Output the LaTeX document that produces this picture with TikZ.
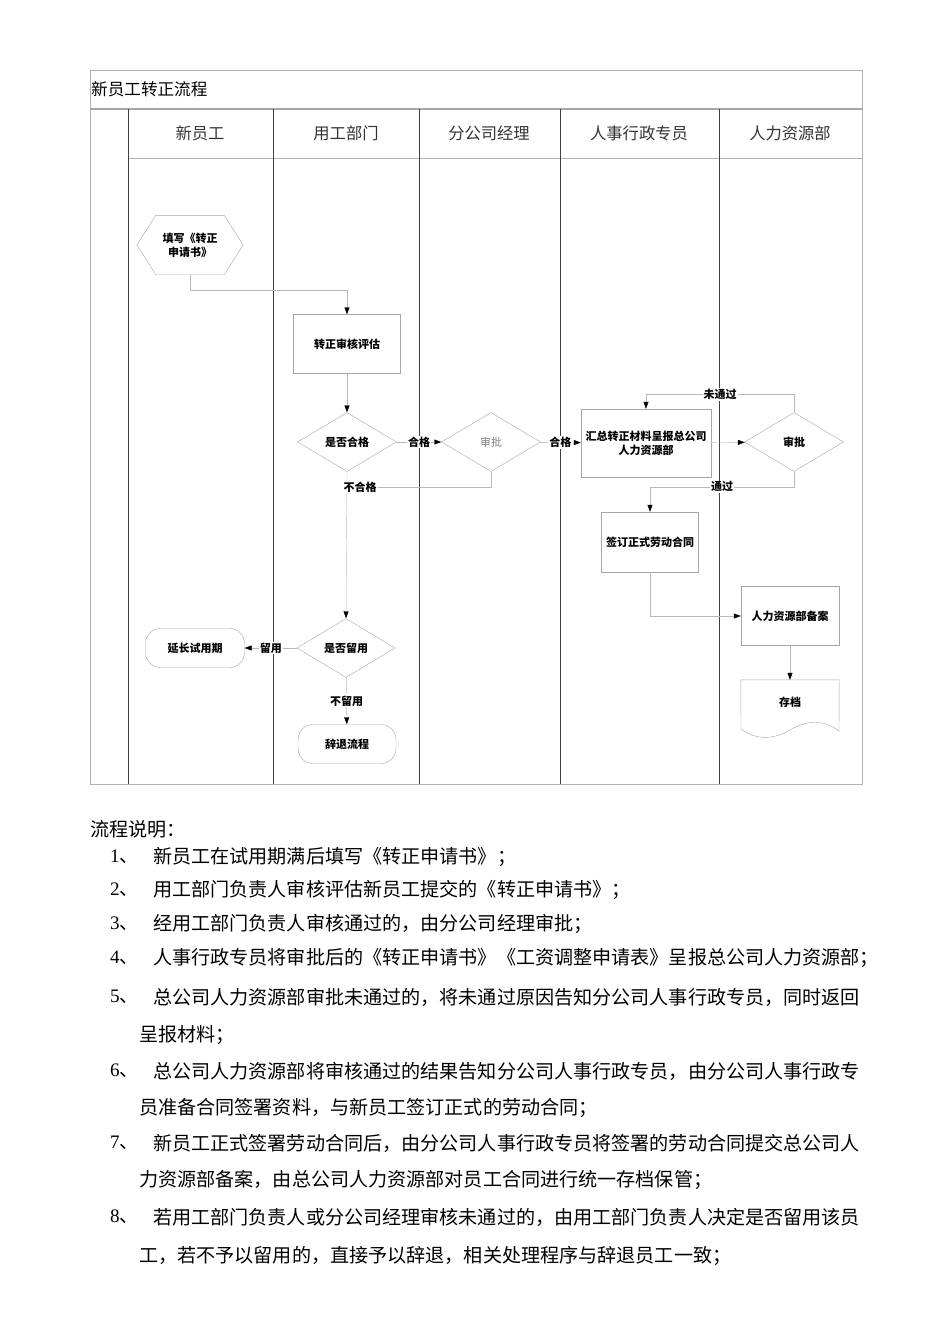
\documentclass[tikz,border=0pt]{standalone}
\usepackage{fontspec}
\setmainfont{Liberation Serif}
\newfontfamily\cjk{Noto Sans CJK SC}
\usetikzlibrary{shapes.geometric,arrows.meta}

\begin{document}
\begin{tikzpicture}[x=1pt,y=-1pt,font=\cjk,
	small/.style={font=\cjk\bfseries\fontsize{11}{14}\selectfont},
	box/.style={draw=gray!70,small,align=center,inner sep=1pt,minimum width=98pt,minimum height=59pt},
	dia/.style={draw=gray!70,small,diamond,aspect=1.7,inner sep=0pt,minimum width=99pt,minimum height=59pt},
	term/.style={draw=gray!70,small,rounded corners=15pt,minimum width=99pt,minimum height=39pt},
	conn/.style={draw=gray!55,-{Triangle[length=7pt,width=5pt,color=black]}},
	lbl/.style={small,fill=white,inner sep=1pt},
	head/.style={font=\cjk\fontsize{16.3}{18}\selectfont,text=black!80},
	txt/.style={anchor=west,inner sep=0pt,font=\cjk\fontsize{19.1}{21}\selectfont},
	num/.style={anchor=west,inner sep=0pt,font=\fontsize{19.1}{21}\selectfont}]
	\useasboundingbox (0,0) rectangle (950,1344);

	% swimlane frame
	\draw[gray!60] (90,70) rectangle (862,784);
	\draw[gray!70,line width=1.3pt] (90,109) -- (862,109);
	\draw[gray!60] (128,158) -- (862,158);
	\foreach \x in {128,273,419,560,719}
		\draw[black!75] (\x,109) -- (\x,784);
	\node[anchor=west,inner sep=0pt,font=\cjk\fontsize{16.6}{18}\selectfont] (title) at (91,89) {新员工转正流程};
	\foreach \x/\t/\n in {200/新员工/lane1,346/用工部门/lane2,489/分公司经理/lane3,639/人事行政专员/lane4,790/人力资源部/lane5}
		\node[head] (\n) at (\x,133) {\t};

	% steps
	\node[small,align=center,minimum width=106pt,minimum height=59pt] (apply) at (190,245) {填写《转正\\申请书》};
	\draw[gray!70] (apply.west) -- ([xshift=19pt]apply.north west) -- ([xshift=-19pt]apply.north east)
		-- (apply.east) -- ([xshift=-19pt]apply.south east) -- ([xshift=19pt]apply.south west) -- cycle;
	\node[box,minimum width=107pt] (review) at (347,344) {转正审核评估};
	\node[dia] (qualify) at (347,442) {是否合格};
	\node[dia,font=\cjk\fontsize{11}{14}\selectfont,text=gray] (approve1) at (491,442) {审批};
	\node[box,minimum width=130pt,minimum height=68pt] (summary) at (646,443) {汇总转正材料呈报总公司\\人力资源部};
	\node[dia] (approve2) at (794,442) {审批};
	\node[box,minimum width=97pt,minimum height=60pt] (sign) at (650,542) {签订正式劳动合同};
	\node[dia,minimum width=98pt] (retain) at (346,648) {是否留用};
	\node[term] (extend) at (195,648) {延长试用期};
	\node[term,minimum width=98pt] (dismiss) at (347,744) {辞退流程};
	\node[box] (filing) at (790,616) {人力资源部备案};
	\node[small,minimum width=98pt,minimum height=44pt] (archive) at (790,702) {存档};
	\draw[gray!70] (archive.north west) -- (archive.north east) -- (839,731)
		.. controls (822,718) and (805,721) .. (790,730)
		.. controls (775,739) and (757,741) .. (741,729) -- cycle;

	% connectors
	\coordinate (join) at (347,487);
	\draw[conn] (apply.south) -- ++(0,15) -| (review.north);
	\draw[conn] (review) -- (qualify);
	\draw[conn] (qualify) -- node[lbl] (ok1) {合格} (approve1);
	\draw[conn] (approve1) -- node[lbl] (ok2) {合格} (summary);
	\draw[conn] (summary) -- (approve2);
	\draw[conn] (approve2.north) -- ++(0,-18) -| node[lbl,pos=0.25] (nopass) {未通过} (summary.north);
	\draw[conn] (approve2.south) -- ++(0,15) -| node[lbl,pos=0.25] (pass) {通过} (sign.north);
	\draw[gray!55] (approve1.south) |- (join);
	\draw[conn] (qualify.south) -- (retain.north);
	\node[lbl] (fail) at (360,487) {不合格};
	\draw[conn] (retain) -- node[lbl] (keep) {留用} (extend);
	\draw[conn] (retain) -- node[lbl] (nokeep) {不留用} (dismiss);
	\draw[conn] (sign.south) |- (filing.west);
	\draw[conn] (filing) -- (archive);

	% notes
	\node[txt] (intro) at (90,829) {流程说明：};
	\foreach \y/\n/\t in {857/1/新员工在试用期满后填写《转正申请书》；,
		890/2/用工部门负责人审核评估新员工提交的《转正申请书》；,
		924/3/经用工部门负责人审核通过的，由分公司经理审批；,
		958/4/人事行政专员将审批后的《转正申请书》《工资调整申请表》呈报总公司人力资源部；,
		997/5/总公司人力资源部审批未通过的，将未通过原因告知分公司人事行政专员，同时返回,
		1071/6/总公司人力资源部将审核通过的结果告知分公司人事行政专员，由分公司人事行政专,
		1143/7/新员工正式签署劳动合同后，由分公司人事行政专员将签署的劳动合同提交总公司人,
		1217/8/若用工部门负责人或分公司经理审核未通过的，由用工部门负责人决定是否留用该员}
	{
		\node[num] (num\n) at (110,\y) {\n\cjk 、};
		\node[txt] (item\n) at (153,\y) {\t};
	}
	\node[txt] (more5) at (139,1035) {呈报材料；};
	\node[txt] (more6) at (139,1108) {员准备合同签署资料，与新员工签订正式的劳动合同；};
	\node[txt] (more7) at (139,1180) {力资源部备案，由总公司人力资源部对员工合同进行统一存档保管；};
	\node[txt] (more8) at (139,1256) {工，若不予以留用的，直接予以辞退，相关处理程序与辞退员工一致；};
\end{tikzpicture}
\end{document}
